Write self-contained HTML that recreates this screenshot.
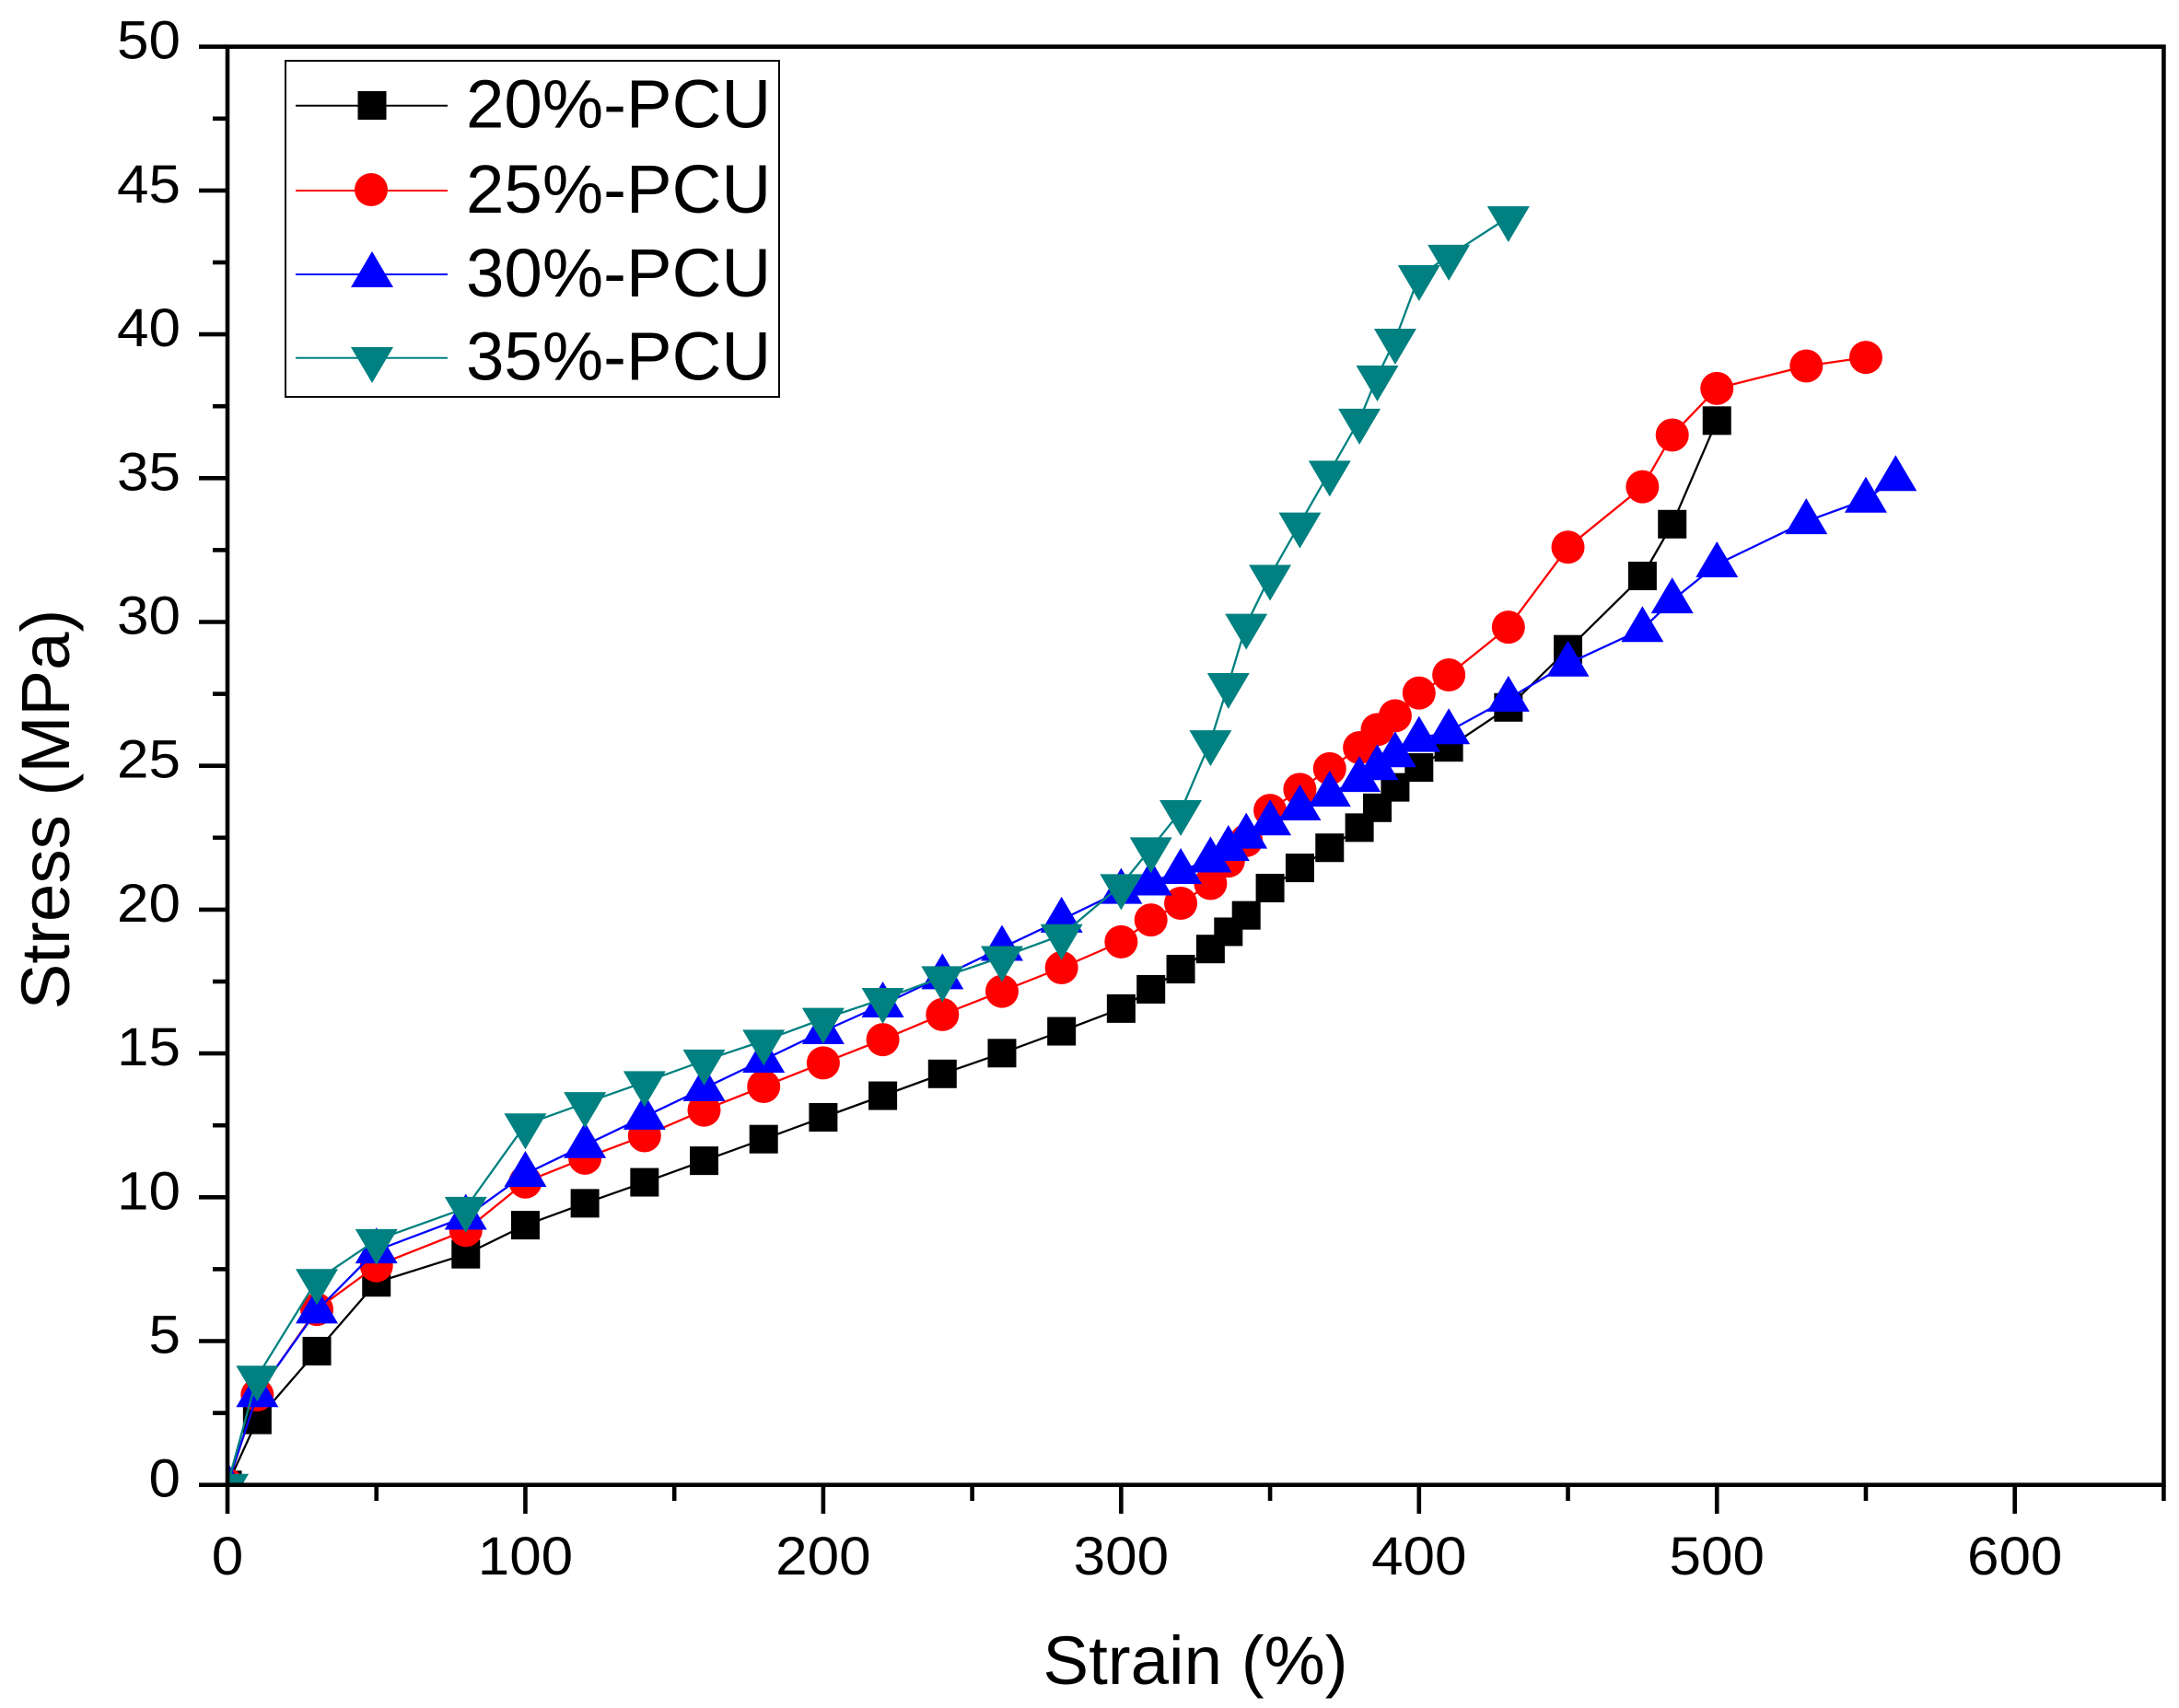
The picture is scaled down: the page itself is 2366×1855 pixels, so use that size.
<!DOCTYPE html>
<html lang="en">
<head>
<meta charset="utf-8">
<title>Stress vs Strain</title>
<style>
html,body{margin:0;padding:0;background:#fff;width:2366px;height:1855px;overflow:hidden}
svg{display:block}
text{font-family:"Liberation Sans",Arial,sans-serif;fill:#000}
</style>
</head>
<body>
<svg id="chart" xmlns="http://www.w3.org/2000/svg" width="2366" height="1855" viewBox="0 0 2366 1855">
  <defs><clipPath id="plot-clip"><rect x="247" y="50" width="2102" height="1563"/></clipPath></defs>
  <rect width="2366" height="1855" fill="#fff"/>
  <g id="series-layer" clip-path="url(#plot-clip)"></g>
  <g id="axes-layer"></g>
  <text x="1298" y="1829" font-size="74.5" text-anchor="middle">Strain (%)</text>
  <text transform="translate(75 879) rotate(-90)" font-size="74.5" text-anchor="middle">Stress (MPa)</text>
  <g>
    <rect x="310" y="66" width="536" height="365" fill="#fff" stroke="#000" stroke-width="2"/>
    <g>
      <line x1="321" x2="486" y1="114.7" y2="114.7" stroke="#000" stroke-width="2"/>
      <rect x="388.5" y="99" width="31" height="31" fill="#000"/>
      <text x="506" y="138.5" font-size="74.5">20%-PCU</text>
    </g>
    <g>
      <line x1="321" x2="486" y1="207" y2="207" stroke="#f00" stroke-width="2"/>
      <circle cx="403" cy="206" r="18" fill="#f00"/>
      <text x="506" y="231" font-size="74.5">25%-PCU</text>
    </g>
    <g>
      <line x1="321" x2="486" y1="298" y2="298" stroke="#00f" stroke-width="2"/>
      <polygon points="404,273 427,312 381,312" fill="#00f"/>
      <text x="506" y="322" font-size="74.5">30%-PCU</text>
    </g>
    <g>
      <line x1="321" x2="486" y1="388.7" y2="388.7" stroke="#008080" stroke-width="2"/>
      <polygon points="381,377 427,377 404,416" fill="#008080"/>
      <text x="506" y="412.5" font-size="74.5">35%-PCU</text>
    </g>
  </g>
</svg>
<script>
const xTickLabels = [0, 100, 200, 300, 400, 500, 600];
const yTickLabels = [0, 5, 10, 15, 20, 25, 30, 35, 40, 45, 50];

const strain20 = [0,10,30,50,80,100,120,140,160,180,200,220,240,260,280,300,310,320,330,336,342,350,360,370,380,386,392,400,410,430,450,475,485,500];
const stress20 = [0,2.26,4.65,7.04,8.02,9.03,9.79,10.52,11.27,12.02,12.78,13.53,14.29,15.01,15.77,16.56,17.23,17.93,18.63,19.23,19.8,20.75,21.45,22.15,22.85,23.54,24.25,24.94,25.64,27.03,29.05,31.6,33.4,37];

const strain25 = [0,10,30,50,80,100,120,140,160,180,200,220,240,260,280,300,310,320,330,336,342,350,360,370,380,386,392,400,410,430,450,475,485,500,530,550];
const stress25 = [0,3.13,6.1,7.62,8.85,10.53,11.36,12.14,13.03,13.85,14.67,15.48,16.35,17.16,17.98,18.88,19.64,20.22,20.91,21.69,22.4,23.45,24.18,24.9,25.63,26.26,26.74,27.53,28.16,29.82,32.6,34.7,36.5,38.12,38.9,39.2];

const strain30 = [0,10,30,50,80,100,120,140,160,180,200,220,240,260,280,300,310,320,330,336,342,350,360,370,380,386,392,400,410,430,450,475,485,500,530,550,560];
const stress30 = [0,3.15,6.06,8.15,9.32,10.81,11.81,12.8,13.79,14.78,15.77,16.7,17.68,18.67,19.65,20.65,20.94,21.34,21.74,22.14,22.57,23.03,23.55,24.03,24.54,24.95,25.4,25.93,26.2,27.33,28.55,29.75,30.75,32,33.5,34.25,35];

const strain35 = [0,10,30,50,80,100,120,140,160,180,200,220,240,260,280,300,310,320,330,336,342,350,360,370,380,386,392,400,410,430];
const stress35 = [0,3.76,7.12,8.51,9.63,12.53,13.27,14,14.75,15.44,16.2,16.89,17.65,18.35,19.11,20.85,22.13,23.42,25.85,27.84,29.9,31.6,33.42,35.22,37.03,38.53,39.81,42.02,42.73,44.07];

const NS = 'http://www.w3.org/2000/svg';
const xScale = v => 247 + v * 3.2345;
const yScale = v => 1612.7 - v * 31.24;

function make(tag, attrs, parent) {
  const el = document.createElementNS(NS, tag);
  for (const k in attrs) el.setAttribute(k, attrs[k]);
  parent.appendChild(el);
  return el;
}

function drawMarker(kind, cx, cy, color, parent) {
  if (kind === 'square') return make('rect', {x: cx - 15.5, y: cy - 15.5, width: 31, height: 31, fill: color}, parent);
  if (kind === 'circle') return make('circle', {cx: cx, cy: cy, r: 18, fill: color}, parent);
  if (kind === 'up') return make('polygon', {points: `${cx},${cy - 25} ${cx + 23},${cy + 14} ${cx - 23},${cy + 14}`, fill: color}, parent);
  return make('polygon', {points: `${cx - 23},${cy - 12} ${cx + 23},${cy - 12} ${cx},${cy + 27}`, fill: color}, parent);
}

function drawSeries(name, xs, ys, color, kind) {
  const layer = document.getElementById('series-layer');
  const g = make('g', {}, layer);
  
  
  const pts = xs.map((v, i) => xScale(v).toFixed(1) + ',' + yScale(ys[i]).toFixed(1)).join(' ');
  const line = make('polyline', {points: pts, fill: 'none', stroke: color, 'stroke-width': 2.3}, g);
  
  
  xs.forEach((v, i) => {
    const m = drawMarker(kind, xScale(v), yScale(ys[i]), color, g);
    
    
  });
}

drawSeries('series-20-pcu', strain20, stress20, '#000000', 'square');
drawSeries('series-25-pcu', strain25, stress25, '#ff0000', 'circle');
drawSeries('series-30-pcu', strain30, stress30, '#0000ff', 'up');
drawSeries('series-35-pcu', strain35, stress35, '#008080', 'down');

const axes = document.getElementById('axes-layer');
const AW = 4.6;
const frame = make('path', {d: `M247 ${yScale(0)} V${yScale(50)} H${xScale(650)} V${yScale(0)} Z`, fill: 'none', stroke: '#000', 'stroke-width': AW}, axes);



for (let i = 0; i <= 13; i++) {
  const v = i * 50;
  const major = i % 2 === 0;
  const t = make('line', {x1: xScale(v), x2: xScale(v), y1: yScale(0), y2: major ? 1644 : 1630, stroke: '#000', 'stroke-width': AW}, axes);
  
  
}
for (let i = 0; i <= 20; i++) {
  const v = i * 2.5;
  const major = i % 2 === 0;
  const t = make('line', {x1: 247, x2: major ? 216 : 231, y1: yScale(v), y2: yScale(v), stroke: '#000', 'stroke-width': AW}, axes);
  
  
}
xTickLabels.forEach(v => {
  const t = make('text', {transform: `translate(${xScale(v)} 1710) scale(1.06 1)`, 'font-size': 58.5, 'text-anchor': 'middle'}, axes);
  t.textContent = v;
  
  
});
yTickLabels.forEach(v => {
  const t = make('text', {transform: `translate(196 ${yScale(v) + 13}) scale(1.06 1)`, 'font-size': 58.5, 'text-anchor': 'end'}, axes);
  t.textContent = v;
  
  
});
</script>
</body>
</html>
